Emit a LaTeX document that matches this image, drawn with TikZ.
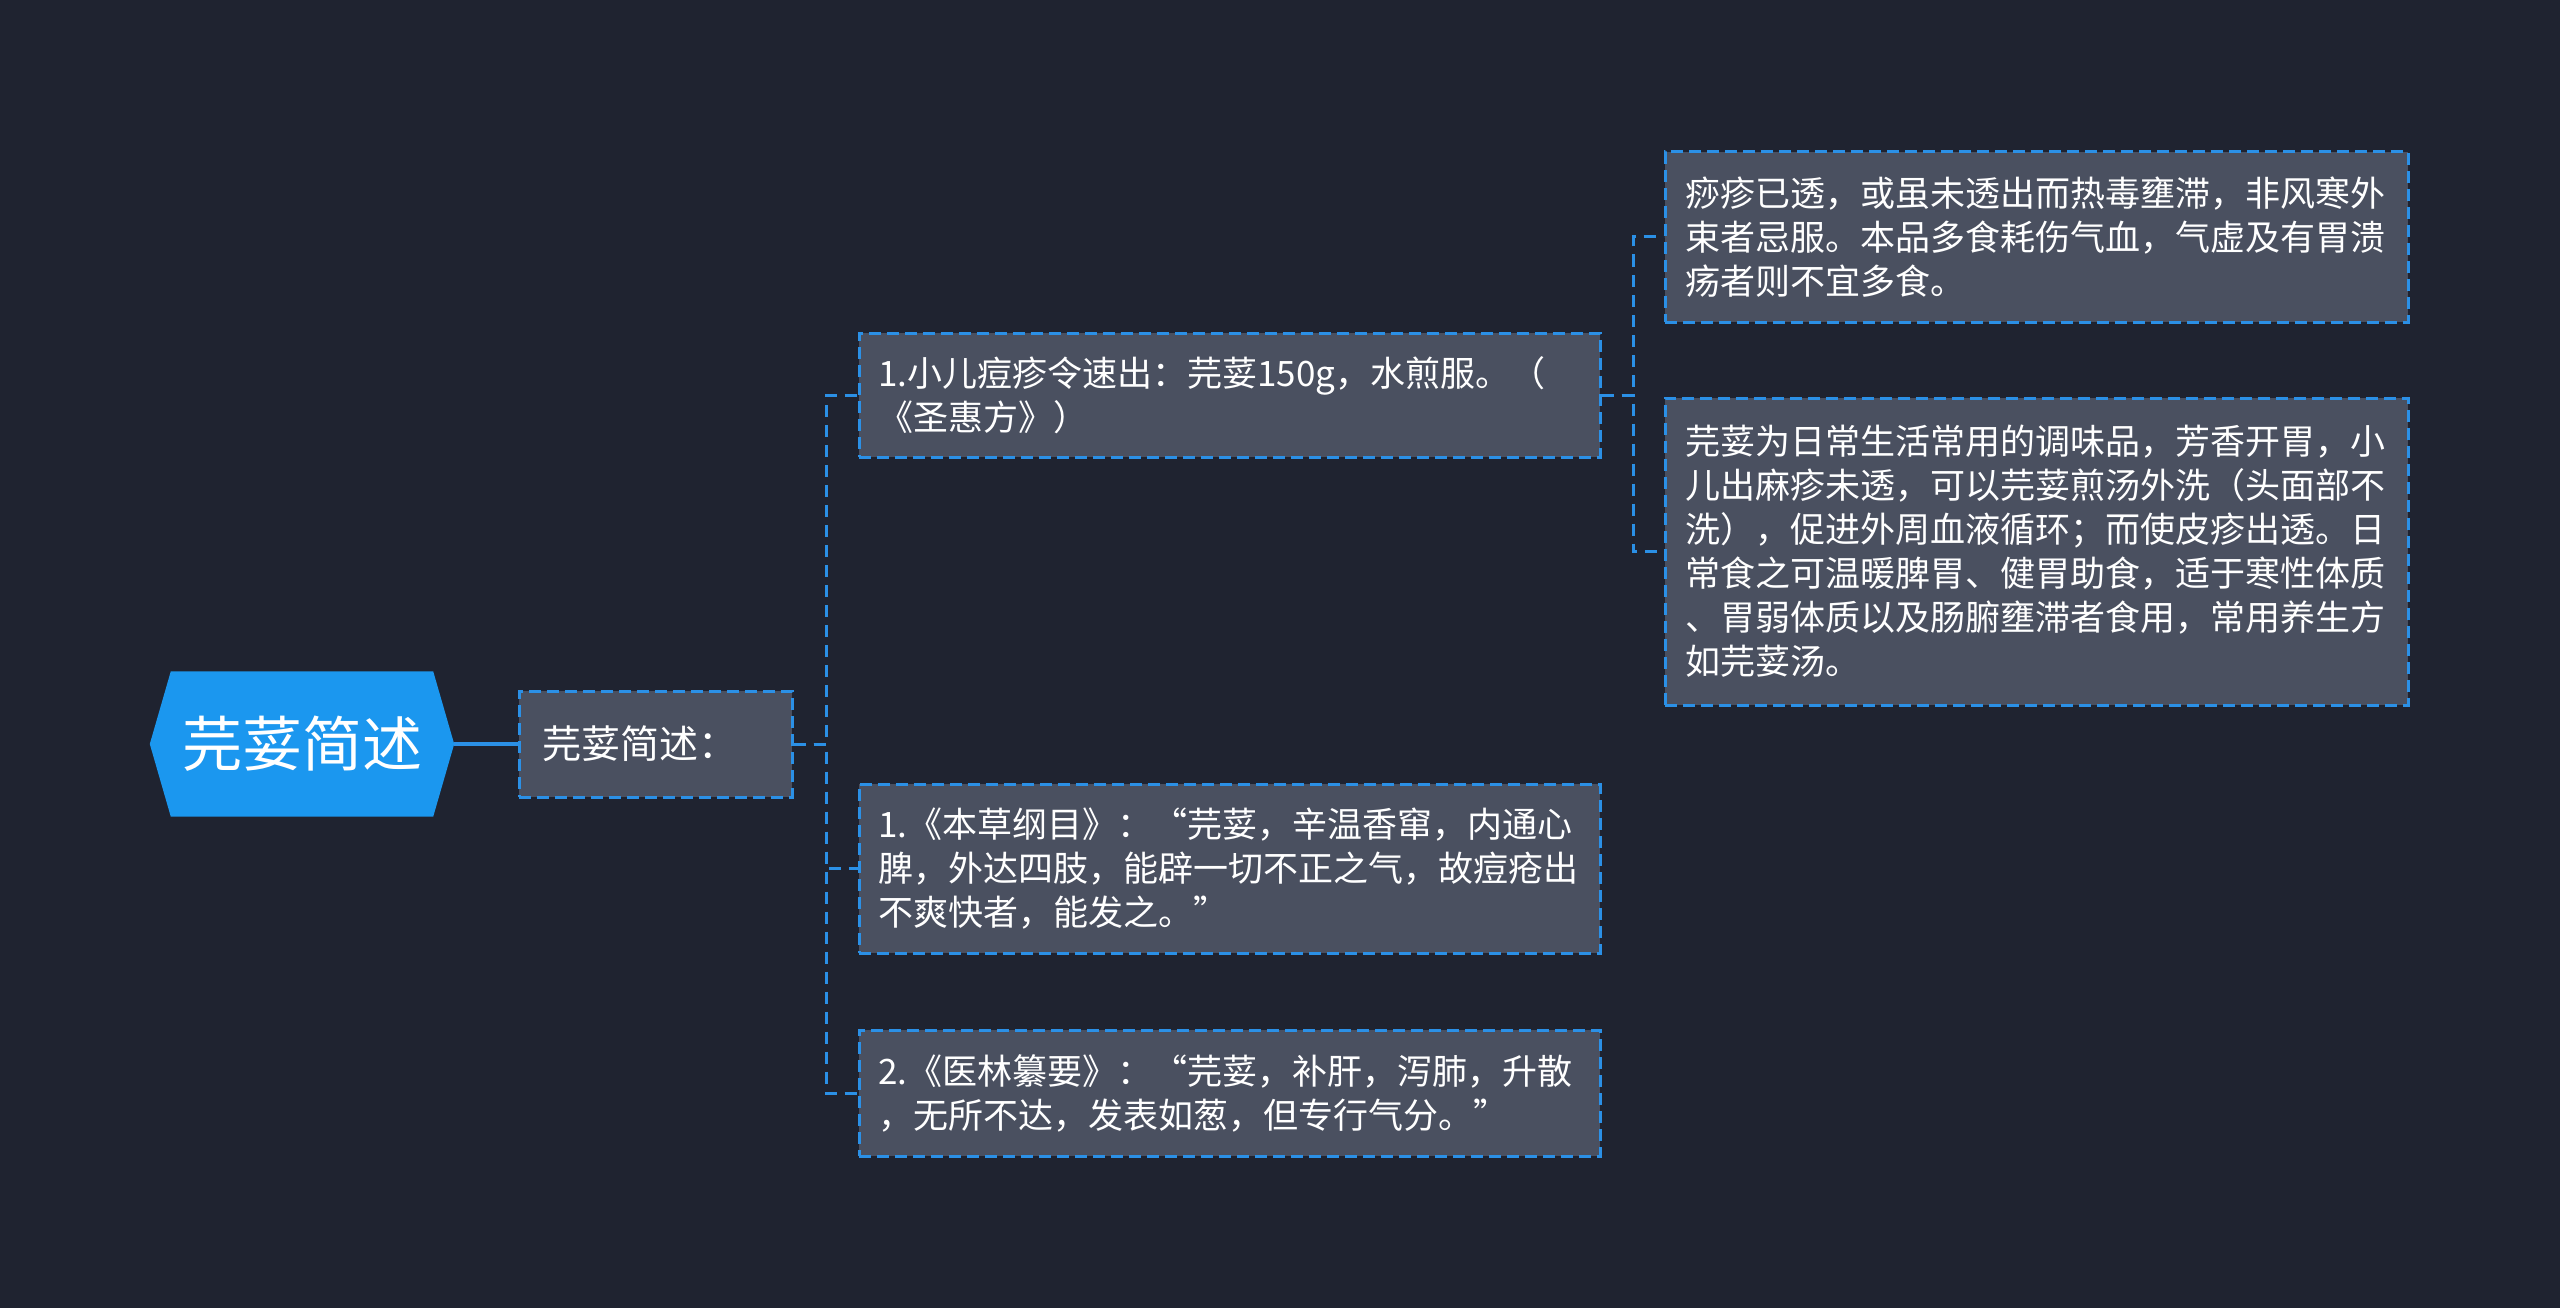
\documentclass[tikz,border=0pt]{standalone}
\usepackage{fontspec}
\setmainfont{Noto Sans CJK SC}
\usetikzlibrary{calc}
\definecolor{bg}{HTML}{1F2330}
\definecolor{boxfill}{HTML}{4A5060}
\definecolor{edge}{HTML}{2B90E6}
\definecolor{rootblue}{HTML}{1B97EF}
\begin{document}
\begin{tikzpicture}[x=1pt,y=-1pt,
  leafbox/.style={draw=edge, fill=boxfill, line width=3pt, dash pattern=on 12pt off 6pt,
    rectangle, align=left, text=white, font=\fontsize{35}{44}\selectfont,
    text width=703pt, inner xsep=19pt, inner ysep=0pt, anchor=center},
  midbox/.style={draw=edge, fill=boxfill, line width=3pt, dash pattern=on 12pt off 6pt,
    rectangle, align=left, text=white, font=\fontsize{39}{48}\selectfont,
    text width=227pt, inner xsep=23pt, inner ysep=0pt, minimum height=106pt},
  conn/.style={draw=edge, line width=3pt, dash pattern=on 12pt off 8pt},
  rootconn/.style={draw=edge, line width=4.5pt},
  rootsize/.style={minimum width=304pt, minimum height=145pt, inner sep=0pt},
  roottext/.style={text=white, font=\fontsize{60}{70}\selectfont, inner sep=0pt},
]
\fill[bg] (0,0) rectangle (2560,1308);
\useasboundingbox (0,0) rectangle (2560,1308);

% root
\node[rootsize] (root) at (302,744) {};
\fill[rootblue] (root.west) -- ([xshift=21pt]root.north west) -- ([xshift=-21pt]root.north east)
  -- (root.east) -- ([xshift=-21pt]root.south east) -- ([xshift=21pt]root.south west) -- cycle;
\node[roottext] (roottxt) at (root.center) {芫荽简述};

% level 1
\node[midbox] (mid) at (655.5,744) {芫荽简述：};

% level 2
\node[leafbox, minimum height=124pt] (c1) at (1229.5,395)
  {1.小儿痘疹令速出：芫荽150g，水煎服。（\\《圣惠方》）};
\node[leafbox, minimum height=169pt] (c2) at (1229.5,868.5)
  {1.《本草纲目》：“芫荽，辛温香窜，内通心\\脾，外达四肢，能辟一切不正之气，故痘疮出\\不爽快者，能发之。”};
\node[leafbox, minimum height=126pt] (c3) at (1229.5,1093)
  {2.《医林纂要》：“芫荽，补肝，泻肺，升散\\，无所不达，发表如葱，但专行气分。”};

% level 3
\node[leafbox, minimum width=743pt, minimum height=170pt] (g1) at (2036.5,237)
  {痧疹已透，或虽未透出而热毒壅滞，非风寒外\\束者忌服。本品多食耗伤气血，气虚及有胃溃\\疡者则不宜多食。};
\node[leafbox, minimum width=743pt, minimum height=307pt] (g2) at (2036.5,551.5)
  {芫荽为日常生活常用的调味品，芳香开胃，小\\儿出麻疹未透，可以芫荽煎汤外洗（头面部不\\洗），促进外周血液循环；而使皮疹出透。日\\常食之可温暖脾胃、健胃助食，适于寒性体质\\、胃弱体质以及肠腑壅滞者食用，常用养生方\\如芫荽汤。};

% connectors
\coordinate (sp1) at (826,744);
\coordinate (sp2) at (1633,395);
\draw[rootconn] (root.east) -- (mid.west);
\draw[conn] (mid.east) -- (sp1) |- (c1.west);
\draw[conn] (mid.east) -- (sp1) |- (c2.west);
\draw[conn] (mid.east) -- (sp1) |- (c3.west);
\draw[conn] (c1.east) -- (sp2) |- (g1.west);
\draw[conn] (c1.east) -- (sp2) |- (g2.west);
\end{tikzpicture}
\end{document}
